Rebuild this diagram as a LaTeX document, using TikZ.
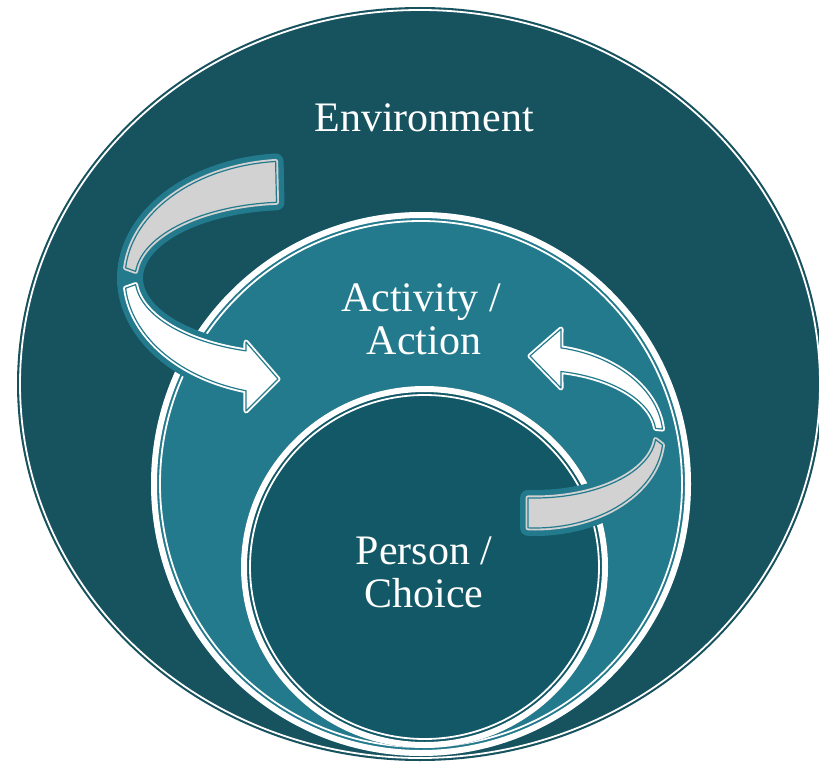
\documentclass[tikz,border=0pt]{standalone}
\usepackage{fontspec}
\setmainfont{Liberation Serif}
\definecolor{envfill}{HTML}{17525F}
\definecolor{actfill}{HTML}{237A8D}
\definecolor{perfill}{HTML}{125866}
\definecolor{glowc}{HTML}{237A8D}
\definecolor{backgray}{HTML}{D2D2D2}
\definecolor{edgec}{HTML}{237A8D}
\begin{document}
\begin{tikzpicture}[x=1pt,y=-1pt,
  lbl/.style={text=white, font=\fontsize{42}{44}\selectfont, anchor=base, inner sep=0pt},
  glow/.style={fill=glowc, draw=glowc, line width=16pt, line join=round},
  frontpart/.style={fill=white, draw=edgec, line width=1.2pt, line join=round,
    preaction={draw=white, line width=5pt, line join=round}},
  backpart/.style={fill=backgray, draw=edgec, line width=1.2pt, line join=round,
    preaction={draw=backgray, line width=5pt, line join=round}},
  thickrim/.style={draw=white, line width=6pt},
  thinrim/.style={draw=white, line width=1.8pt}]
\useasboundingbox (0,0) rectangle (819,762);

% Environment
\fill[envfill] (420,384) ellipse [x radius=403pt, y radius=377pt];
\draw[thinrim] (420,384) ellipse [x radius=400pt, y radius=374pt];

% Activity / Action
\fill[actfill] (421,484) ellipse [x radius=270pt, y radius=272pt];
\draw[thickrim] (421,484) ellipse [x radius=267pt, y radius=269pt];
\draw[thinrim] (421,484) ellipse [x radius=261pt, y radius=263pt];

% Person / Choice
\fill[perfill] (424.5,567) ellipse [x radius=183.5pt, y radius=181pt];
\draw[thickrim] (424.5,567) ellipse [x radius=180.5pt, y radius=178pt];
\draw[thinrim] (424.5,567) ellipse [x radius=174.5pt, y radius=172pt];

% Left circular arrow
\path[glow] plot[domain=95:254.5, samples=50, variable=\t] ({290+165*cos(\t)},{278-117*sin(\t)})
  -- (246,411) -- (278,379) -- (246,342)
  -- plot[domain=253.5:95, samples=50, variable=\t] ({290+155*cos(\t)},{278-76*sin(\t)}) -- cycle;
\path[backpart] plot[domain=95:175, samples=30, variable=\t] ({290+165*cos(\t)},{278-117*sin(\t)})
  -- plot[domain=175:95, samples=30, variable=\t] ({290+155*cos(\t)},{278-76*sin(\t)}) -- cycle;
\path[frontpart] plot[domain=185:254.5, samples=30, variable=\t] ({290+165*cos(\t)},{278-117*sin(\t)})
  -- (246,411) -- (278,379) -- (246,342)
  -- plot[domain=253.5:185, samples=30, variable=\t] ({290+155*cos(\t)},{278-76*sin(\t)}) -- cycle;

% Right circular arrow
\path[glow] plot[domain=78.3:-93.1, samples=50, variable=\t] ({535+128*cos(\t)},{437-91*sin(\t)})
  -- plot[domain=-93.3:77.6, samples=50, variable=\t] ({535+121*cos(\t)},{434-64*sin(\t)})
  -- (561,388) -- (530,356) -- (561,329) -- cycle;
\path[backpart] plot[domain=-5:-93.1, samples=30, variable=\t] ({535+128*cos(\t)},{437-91*sin(\t)})
  -- plot[domain=-93.3:-5, samples=30, variable=\t] ({535+121*cos(\t)},{434-64*sin(\t)}) -- cycle;
\path[frontpart] plot[domain=78.3:5, samples=30, variable=\t] ({535+128*cos(\t)},{437-91*sin(\t)})
  -- plot[domain=5:77.6, samples=30, variable=\t] ({535+121*cos(\t)},{434-64*sin(\t)})
  -- (561,388) -- (530,356) -- (561,329) -- cycle;

% Labels
\node[lbl] (env) at (424,132) {Environment};
\node[lbl] (act1) at (421,311) {Activity /};
\node[lbl] (act2) at (424,354) {Action};
\node[lbl] (per1) at (424,564) {Person /};
\node[lbl] (per2) at (424,607) {Choice};
\end{tikzpicture}
\end{document}
